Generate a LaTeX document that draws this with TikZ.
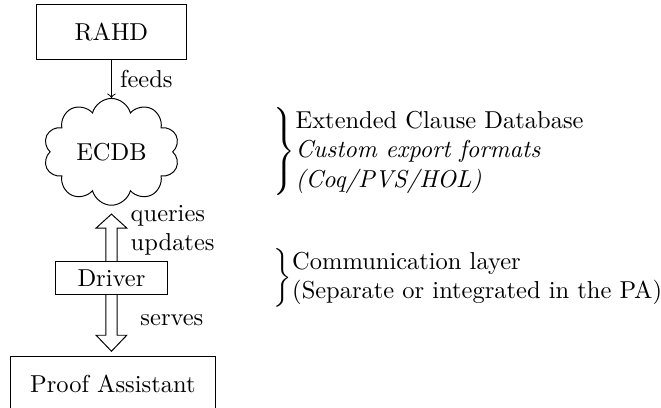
\documentclass[tikz,border=0pt]{standalone}
\usetikzlibrary{shapes.symbols,calc,positioning}
\begin{document}
\begin{tikzpicture}
\tikzset{
  box/.style={draw, minimum width=2.15cm, minimum height=0.78cm},
  fatarrow/.style={draw, line join=miter},
  note/.style={anchor=west, inner sep=1pt},
}
% Frame of the picture
\useasboundingbox (0,0) rectangle (9.49,-5.855);
% Column of components
\node[box] (rahd) at (1.6,-0.46) {RAHD};
\node[draw, cloud, cloud puffs=10, aspect=1.5, shape border rotate=18, minimum width=1.91cm, minimum height=1.26cm] (ecdb) at (1.6,-2.18) {ECDB};
\node[draw, minimum width=1.6cm] (driver) at (1.6,-3.99) {Driver};
\node[box, minimum width=2.94cm] (pa) at (1.62,-5.51) {Proof Assistant};
% RAHD feeds the database
\draw[->] (rahd) -- (ecdb) node[midway, right] (feeds) {feeds};
% Tips of the fat arrows
\coordinate (uptip) at ($(driver |- ecdb.south)+(0,-0.12)$);
\coordinate (downtip) at ($(driver |- pa.north)+(0,0.07)$);
% Fat arrow up: queries and updates
\draw[fatarrow] ($(driver.north)+(-0.08,0)$) -- ($(uptip)+(-0.08,-0.2)$) -- ($(uptip)+(-0.22,-0.2)$)
  -- (uptip) -- ($(uptip)+(0.22,-0.2)$) -- ($(uptip)+(0.08,-0.2)$) -- ($(driver.north)+(0.08,0)$);
% Fat arrow down: serves
\draw[fatarrow] ($(driver.south)+(-0.08,0)$) -- ($(downtip)+(-0.08,0.23)$) -- ($(downtip)+(-0.22,0.23)$)
  -- (downtip) -- ($(downtip)+(0.22,0.23)$) -- ($(downtip)+(0.08,0.23)$) -- ($(driver.south)+(0.08,0)$);
% Arrow labels
\node[anchor=west, align=left, inner sep=0pt] (queries) at (1.87,-3.31) {queries\\updates};
\node[anchor=west, inner sep=0pt] (serves) at (2.01,-4.6) {serves};
% Notes on the right
\coordinate (notes) at (3.89,0);
\node[note] (ecdbnote) at (ecdb -| notes) {$\left\}\begin{tabular}{@{}l@{}}Extended Clause Database\\ \textit{Custom export formats}\\ \textit{(Coq/PVS/HOL)}\end{tabular}\right.$};
\node[note] (drivernote) at (driver -| notes) {$\left\}\begin{tabular}{@{}l@{}}Communication layer\\ (Separate or integrated in the PA)\end{tabular}\right.$};
\end{tikzpicture}
\end{document}
